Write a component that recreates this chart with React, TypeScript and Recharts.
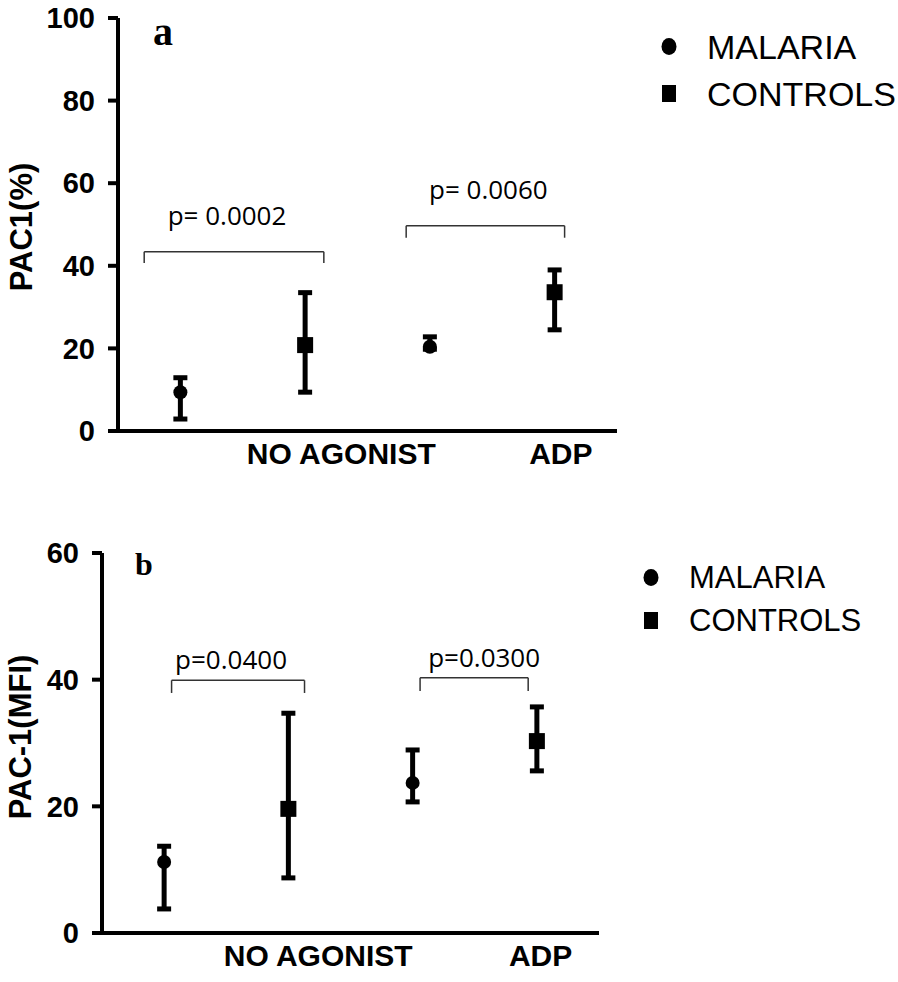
import React from 'react';
import {
  ComposedChart,
  Scatter,
  ErrorBar,
  XAxis,
  YAxis,
  ReferenceLine,
  Legend,
  Customized,
} from 'recharts';

const groups = ['NO AGONIST', 'ADP'];
const seriesNames = ['MALARIA', 'CONTROLS'];
const seriesShapes = ['circle', 'square'];

// panel a: PAC1 (%)
const malariaA = [9.4, 20.4];
const malariaLowA = [2.9, 19.8];
const malariaHighA = [12.9, 22.8];
const controlsA = [20.8, 33.6];
const controlsLowA = [9.4, 24.5];
const controlsHighA = [33.5, 39.0];
const yTicksA = [0, 20, 40, 60, 80, 100];
const pValuesA = ['p= 0.0002', 'p= 0.0060'];
const bracketsA = [
  { from: 0.71, to: 2.15, top: 43.4, foot: 40.7, shift: -7 },
  { from: 2.81, to: 4.08, top: 49.7, foot: 46.8, shift: 3 },
];
const groupTicksA = [2.29, 4.05];

// panel b: PAC-1 (MFI)
const malariaB = [11.2, 23.7];
const malariaLowB = [3.8, 20.7];
const malariaHighB = [13.7, 28.9];
const controlsB = [19.6, 30.3];
const controlsLowB = [8.7, 25.6];
const controlsHighB = [34.7, 35.7];
const yTicksB = [0, 20, 40, 60];
const pValuesB = ['p=0.0400', 'p=0.0300'];
const bracketsB = [
  { from: 1.06, to: 2.13, top: 39.9, foot: 37.9, shift: -7 },
  { from: 3.06, to: 3.93, top: 40.3, foot: 38.2, shift: 10 },
];
const groupTicksB = [2.24, 4.03];

const SANS = '"Liberation Sans", Arial, sans-serif';

const buildSeries = (means: number[], lows: number[], highs: number[], offset: number) =>
  means.map((m, i) => ({
    x: i * 2 + offset,
    y: m,
    err: [m - lows[i], highs[i] - m],
  }));

const Dot = (props: any) => <circle cx={props.cx} cy={props.cy} r={7} fill="#000" />;
const Square = (props: any) => (
  <rect x={props.cx - 8} y={props.cy - 8} width={16} height={16} fill="#000" />
);

const GroupTick = (props: any) => {
  const { x, y, index } = props;
  return (
    <text x={x} y={y + 31} textAnchor="middle" fontFamily={SANS} fontWeight="bold" fontSize={30} fill="#000">
      {groups[index]}
    </text>
  );
};

// legend keeps the series order (recharts sorts by name otherwise)
const makeLegend = (fontSize: number, rowH: number, gap: number) => (props: any) => {
  const payload = [...(props.payload || [])].sort(
    (a: any, b: any) => seriesNames.indexOf(a.value) - seriesNames.indexOf(b.value)
  );
  return (
    <div>
      {payload.map((entry: any, i: number) => {
        const shape = seriesShapes[seriesNames.indexOf(entry.value)];
        return (
          <div key={i} style={{ display: 'flex', alignItems: 'center', height: rowH }}>
            <svg width={28} height={rowH}>
              {shape === 'circle' ? (
                <ellipse cx={14} cy={rowH / 2} rx={7.5} ry={8.5} fill="#000" />
              ) : (
                <rect x={7} y={rowH / 2 - 8.5} width={14} height={17} fill="#000" />
              )}
            </svg>
            <span style={{ marginLeft: gap, fontFamily: SANS, fontSize, color: '#000', lineHeight: 1 }}>
              {entry.value}
            </span>
          </div>
        );
      })}
    </div>
  );
};

const PLabel = ({ viewBox, value, shift, offset }: any) => {
  if (!viewBox) return null;
  return (
    <text
      x={viewBox.x + viewBox.width / 2 + shift}
      y={viewBox.y - offset}
      textAnchor="middle"
      fontFamily='"Open Sans", sans-serif'
      fontSize={26}
      fill="#000"
    >
      {value}
    </text>
  );
};

const Decor = ({ letter, lx, ly, lsize, title, tx, ty }: any) => (
  <g>
    <text x={lx} y={ly} fontFamily='"Liberation Serif", serif' fontWeight="bold" fontSize={lsize} fill="#000">
      {letter}
    </text>
    <text
      x={tx}
      y={ty}
      transform={`rotate(-90 ${tx} ${ty})`}
      textAnchor="middle"
      dominantBaseline="central"
      fontFamily={SANS}
      fontWeight="bold"
      fontSize={31}
      fill="#000"
    >
      {title}
    </text>
  </g>
);

const renderBrackets = (brackets: any[], labels: string[], offset: number) =>
  brackets.flatMap((b, i) => [
    <ReferenceLine
      key={`t${i}`}
      segment={[{ x: b.from, y: b.top }, { x: b.to, y: b.top }]}
      stroke="#333"
      strokeWidth={1.5}
      ifOverflow="visible"
      label={(p: any) => <PLabel {...p} value={labels[i]} shift={b.shift} offset={offset} />}
    />,
    <ReferenceLine
      key={`l${i}`}
      segment={[{ x: b.from, y: b.top }, { x: b.from, y: b.foot }]}
      stroke="#333"
      strokeWidth={1.5}
      ifOverflow="visible"
    />,
    <ReferenceLine
      key={`r${i}`}
      segment={[{ x: b.to, y: b.top }, { x: b.to, y: b.foot }]}
      stroke="#333"
      strokeWidth={1.5}
      ifOverflow="visible"
    />,
  ]);

const Panel = ({ cfg }: any) => {
  const malaria = buildSeries(cfg.malaria, cfg.malariaLow, cfg.malariaHigh, 1);
  const controls = buildSeries(cfg.controls, cfg.controlsLow, cfg.controlsHigh, 2);
  return (
    <ComposedChart width={898} height={cfg.height} margin={cfg.margin}>
      <XAxis
        type="number"
        dataKey="x"
        domain={[0.5, 4.5]}
        ticks={cfg.groupTicks}
        tick={<GroupTick />}
        tickLine={false}
        tickSize={0}
        axisLine={{ stroke: '#000', strokeWidth: 4 }}
        height={cfg.xHeight}
        allowDataOverflow
      />
      <YAxis
        type="number"
        dataKey="y"
        domain={[0, cfg.yTicks[cfg.yTicks.length - 1]]}
        ticks={cfg.yTicks}
        interval={0}
        width={cfg.yWidth}
        tickSize={10}
        tickMargin={13}
        axisLine={{ stroke: '#000', strokeWidth: 4 }}
        tickLine={{ stroke: '#000', strokeWidth: 4 }}
        tick={{ fill: '#000', fontFamily: SANS, fontWeight: 'bold', fontSize: 29 }}
      />
      <Legend
        layout="vertical"
        align="center"
        verticalAlign="middle"
        content={makeLegend(cfg.legendFont, cfg.legendRow, cfg.legendGap)}
        wrapperStyle={{ position: 'absolute', left: cfg.legendLeft, top: cfg.legendTop, width: 260 }}
      />
      {renderBrackets(cfg.brackets, cfg.pValues, cfg.pOffset)}
      <Scatter name={seriesNames[0]} data={malaria} fill="#000" shape={Dot} legendType="circle" isAnimationActive={false}>
        <ErrorBar dataKey="err" direction="y" width={7} strokeWidth={5} stroke="#000" />
      </Scatter>
      <Scatter name={seriesNames[1]} data={controls} fill="#000" shape={Square} legendType="square" isAnimationActive={false}>
        <ErrorBar dataKey="err" direction="y" width={7} strokeWidth={5} stroke="#000" />
      </Scatter>
      <Customized component={() => <Decor {...cfg.decor} />} />
    </ComposedChart>
  );
};

const panelA = {
  height: 490,
  margin: { top: 18, right: 281, bottom: 9, left: 0 },
  xHeight: 50,
  yWidth: 118,
  malaria: malariaA,
  malariaLow: malariaLowA,
  malariaHigh: malariaHighA,
  controls: controlsA,
  controlsLow: controlsLowA,
  controlsHigh: controlsHighA,
  yTicks: yTicksA,
  groupTicks: groupTicksA,
  brackets: bracketsA,
  pValues: pValuesA,
  pOffset: 27,
  legendFont: 34,
  legendRow: 47,
  legendGap: 24,
  legendLeft: 655,
  legendTop: 23,
  decor: { letter: 'a', lx: 153, ly: 45, lsize: 40, title: 'PAC1(%)', tx: 21, ty: 227 },
};

const panelB = {
  height: 492,
  margin: { top: 63, right: 299, bottom: 9, left: 0 },
  xHeight: 40,
  yWidth: 102,
  malaria: malariaB,
  malariaLow: malariaLowB,
  malariaHigh: malariaHighB,
  controls: controlsB,
  controlsLow: controlsLowB,
  controlsHigh: controlsHighB,
  yTicks: yTicksB,
  groupTicks: groupTicksB,
  brackets: bracketsB,
  pValues: pValuesB,
  pOffset: 11,
  legendFont: 31,
  legendRow: 43,
  legendGap: 24,
  legendLeft: 637,
  legendTop: 66,
  decor: { letter: 'b', lx: 135, ly: 85, lsize: 32, title: 'PAC-1(MFI)', tx: 20, ty: 247 },
};

export default function App() {
  return (
    <div style={{ position: 'absolute', left: 0, top: 0, width: 898, height: 982, background: '#fff' }}>
      <div style={{ position: 'absolute', left: 0, top: 0 }}>
        <Panel cfg={panelA} />
      </div>
      <div style={{ position: 'absolute', left: 0, top: 490 }}>
        <Panel cfg={panelB} />
      </div>
    </div>
  );
}
